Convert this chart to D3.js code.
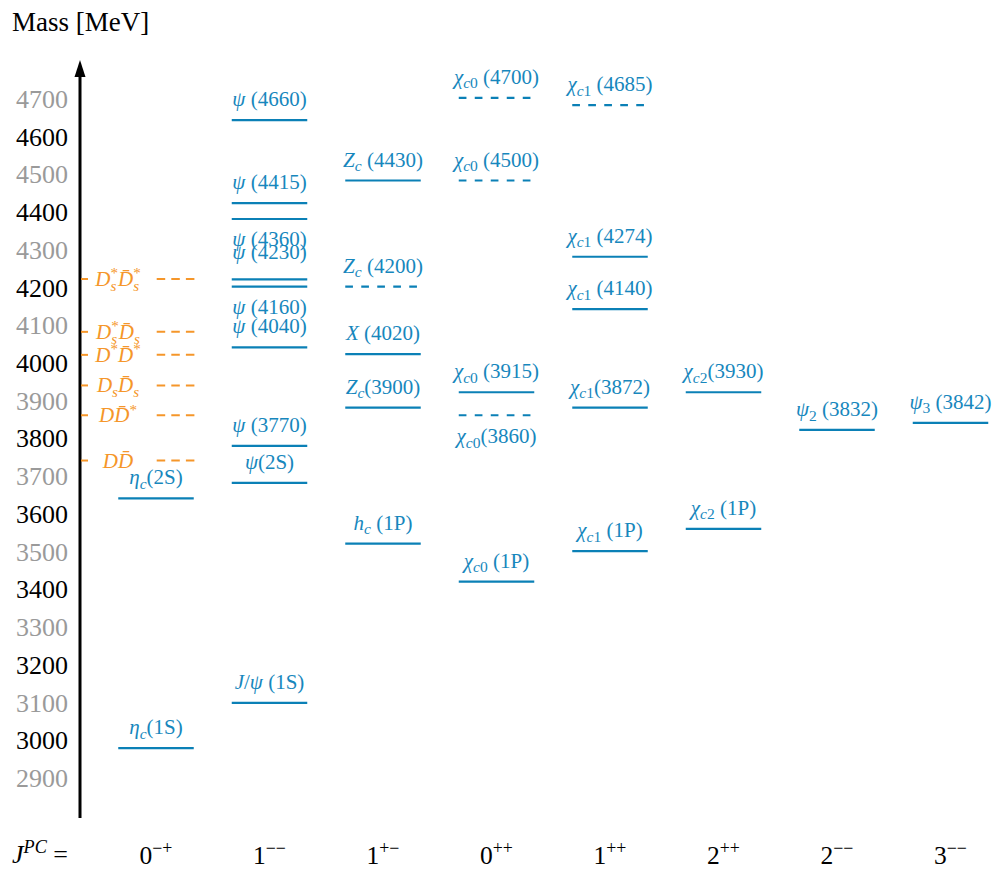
<!DOCTYPE html>
<html>
<head>
<meta charset="utf-8">
<script src="https://cdn.jsdelivr.net/npm/d3@7"></script>
<style>
  html, body { margin: 0; padding: 0; background: #fff; }
  svg text { white-space: pre; }
</style>
</head>
<body>
<svg id="chart" width="997" height="870"></svg>
<script>
// ---- data ---------------------------------------------------------------
// J^PC columns
const jpcCategories = ["0-+", "1--", "1+-", "0++", "1++", "2++", "2--", "3--"];
const jpcLabels = ["0^{−+}", "1^{−−}", "1^{+−}", "0^{++}", "1^{++}", "2^{++}", "2^{−−}", "3^{−−}"];

// mass axis tick labels [MeV]
const massTicks = [2900, 3000, 3100, 3200, 3300, 3400, 3500, 3600, 3700,
                   3800, 3900, 4000, 4100, 4200, 4300, 4400, 4500, 4600, 4700];

// charmonium(-like) states
const stateLabels = [
  "η_c(1S)", "η_c(2S)",
  "J/ψ (1S)", "ψ(2S)", "ψ (3770)", "ψ (4040)", "ψ (4160)", "ψ (4230)", "ψ (4360)", "ψ (4415)", "ψ (4660)",
  "h_c (1P)", "Z_c(3900)", "X (4020)", "Z_c (4200)", "Z_c (4430)",
  "χ_{c0} (1P)", "χ_{c0}(3860)", "χ_{c0} (3915)", "χ_{c0} (4500)", "χ_{c0} (4700)",
  "χ_{c1} (1P)", "χ_{c1}(3872)", "χ_{c1} (4140)", "χ_{c1} (4274)", "χ_{c1} (4685)",
  "χ_{c2} (1P)", "χ_{c2}(3930)",
  "ψ_2 (3832)",
  "ψ_3 (3842)"
];
const stateJPC = [
  "0-+", "0-+",
  "1--", "1--", "1--", "1--", "1--", "1--", "1--", "1--", "1--",
  "1+-", "1+-", "1+-", "1+-", "1+-",
  "0++", "0++", "0++", "0++", "0++",
  "1++", "1++", "1++", "1++", "1++",
  "2++", "2++",
  "2--",
  "3--"
];
const stateMasses = [
  2980, 3642,
  3100, 3683, 3781, 4042, 4203, 4222, 4382, 4424, 4644,
  3522, 3882, 4024, 4203, 4484,
  3421, 3862, 3923, 4484, 4703,
  3502, 3882, 4143, 4282, 4684,
  3561, 3923,
  3823,
  3842
];
// unconfirmed / predicted states
const stateTentative = [
  false, false,
  false, false, false, false, false, false, false, false, false,
  false, false, false, true, false,
  false, true, false, true, true,
  false, false, false, false, true,
  false, false,
  false,
  false
];

// open-charm thresholds
const thresholdLabels = ["D_s^*D̄_s^*", "D_s^*D̄_s", "D^*D̄^*", "D_sD̄_s", "DD̄^*", "DD̄"];
const thresholdMasses = [4223, 4083, 4022, 3941, 3862, 3742];

// ---- layout --------------------------------------------------------------
const FONT = "'Liberation Serif', 'Times New Roman', serif";
const BLUE_LINE = "#0b80b6";
const BLUE_TEXT = "#1787bd";
const ORANGE = "#f5962a";

// label placement relative to its level: vertical offset of the label centre
const labelOffset = {
  "ψ (4360)": 20, "ψ (4160)": 20, "χ_{c0}(3860)": 21, "ψ (4230)": -27
};
const DEFAULT_OFFSET = -21;

const svg = d3.select("#chart");

const y = d3.scaleLinear().domain([2900, 4700]).range([778.3, 99]);
const x = d3.scaleBand().domain(jpcCategories).range([99.25, 1007.25]).padding(0);
const cx = c => x(c) + x.bandwidth() / 2;
const LEVEL_W = 75.5;
const AXIS_X = 80;

// ---- rich text (sub/superscripts, italic math letters) --------------------
function parseTex(s) {
  const toks = [];
  let i = 0;
  while (i < s.length) {
    const ch = s[i];
    if (ch === "_" || ch === "^") {
      let content;
      if (s[i + 1] === "{") {
        const j = s.indexOf("}", i + 2);
        content = s.slice(i + 2, j);
        i = j + 1;
      } else {
        content = s[i + 1];
        i += 2;
      }
      toks.push({ type: ch === "_" ? "sub" : "sup", text: content });
    } else {
      let text = ch;
      i++;
      while (i < s.length && /[\u0300-\u036f]/.test(s[i])) { text += s[i]; i++; }
      toks.push({ type: "base", text });
    }
  }
  return toks;
}

function appendRuns(textEl, str, size, shift, dx, state, math) {
  // split into runs of italic letters / upright others
  const runs = [];
  for (const ch of str) {
    const it = math && /[\p{L}]/u.test(ch);
    const isMark = /[\u0300-\u036f]/.test(ch);
    if (runs.length && (runs[runs.length - 1].it === it || isMark)) runs[runs.length - 1].t += ch;
    else runs.push({ t: ch, it });
  }
  const nodes = [];
  runs.forEach((r, k) => {
    const ts = textEl.append("tspan")
      .attr("font-size", size)
      .attr("font-style", r.it ? "italic" : "normal")
      .text(r.t);
    const dy = shift - state.shift;
    if (dy !== 0) ts.attr("dy", dy);
    state.shift = shift;
    if (k === 0 && dx) ts.attr("dx", dx);
    nodes.push(ts.node());
  });
  return nodes;
}

const widthOf = nodes => nodes.reduce((a, n) => a + n.getComputedTextLength(), 0);

function drawRich(textEl, str, size, mathUntilParen, opts = {}) {
  const state = { shift: 0 };
  let math = str, roman = "";
  if (mathUntilParen) {
    const k = str.indexOf("(");
    if (k >= 0) { math = str.slice(0, k); roman = str.slice(k); }
  }
  const toks = parseTex(math);
  const subShift = size * (opts.sub || 0.24), supShift = -size * (opts.sup || 0.4);
  const scr = size * (opts.scale || 0.7);
  let pendingDx = 0;
  for (let t = 0; t < toks.length; t++) {
    const tok = toks[t];
    if (tok.type === "base") {
      appendRuns(textEl, tok.text, size, 0, pendingDx, state, true);
      pendingDx = 0;
    } else {
      const first = appendRuns(textEl, tok.text, scr, tok.type === "sub" ? subShift : supShift, pendingDx, state, true);
      pendingDx = 0;
      const next = toks[t + 1];
      if (next && next.type !== "base" && next.type !== tok.type) {
        const w1 = widthOf(first);
        const second = appendRuns(textEl, next.text, scr, next.type === "sub" ? subShift : supShift, -w1, state, true);
        pendingDx = Math.max(0, w1 - widthOf(second));
        t++;
      }
    }
  }
  if (roman) appendRuns(textEl, roman, size, 0, pendingDx, state, false);
  else if (state.shift !== 0) textEl.append("tspan").attr("dy", -state.shift).text("");
}

// ---- title ---------------------------------------------------------------
svg.append("text")
  .attr("x", 12).attr("y", 31)
  .attr("font-family", FONT).attr("font-size", 27).attr("fill", "#000")
  .text("Mass [MeV]");

// ---- mass axis -----------------------------------------------------------
const axis = d3.axisLeft(y).tickValues(massTicks).tickSize(0).tickPadding(12).tickFormat(d3.format("d"));
const gAxis = svg.append("g").attr("transform", `translate(${AXIS_X},0)`).call(axis);
gAxis.select(".domain").remove();
gAxis.selectAll(".tick text")
  .attr("font-family", FONT).attr("font-size", 26)
  .attr("fill", d => (d / 100) % 2 === 1 ? "#9a9a9a" : "#000");

svg.append("line")
  .attr("x1", AXIS_X).attr("x2", AXIS_X)
  .attr("y1", y(2795)).attr("y2", 72)
  .attr("stroke", "#000").attr("stroke-width", 3);
svg.append("path")
  .attr("d", `M${AXIS_X},60 L${AXIS_X - 5.5},77 L${AXIS_X + 5.5},77 Z`)
  .attr("fill", "#000");

// ---- open-charm thresholds ----------------------------------------------
const gThr = svg.append("g");
thresholdLabels.forEach((lab, i) => {
  const yy = y(thresholdMasses[i]);
  gThr.append("line")
    .attr("x1", AXIS_X + 1).attr("x2", AXIS_X + 8).attr("y1", yy).attr("y2", yy)
    .attr("stroke", ORANGE).attr("stroke-width", 2);
  gThr.append("line")
    .attr("x1", 156.7).attr("x2", 194.4).attr("y1", yy).attr("y2", yy)
    .attr("stroke", ORANGE).attr("stroke-width", 2).attr("stroke-dasharray", "8.5,6.1");
  const t = gThr.append("text")
    .attr("x", 118).attr("y", yy + 7)
    .attr("text-anchor", "middle")
    .attr("font-family", FONT).attr("fill", ORANGE);
  drawRich(t, lab, 21, false, { scale: 0.72, sub: 0.24, sup: 0.36 });
});

// ---- levels --------------------------------------------------------------
const gLev = svg.append("g");
stateLabels.forEach((lab, i) => {
  const xc = cx(stateJPC[i]);
  const yy = y(stateMasses[i]);
  gLev.append("line")
    .attr("x1", xc - LEVEL_W / 2).attr("x2", xc + LEVEL_W / 2)
    .attr("y1", yy).attr("y2", yy)
    .attr("stroke", BLUE_LINE).attr("stroke-width", 2.2)
    .attr("stroke-dasharray", stateTentative[i] ? "7.7,8.3" : null);
  const off = labelOffset[lab] !== undefined ? labelOffset[lab] : DEFAULT_OFFSET;
  const t = gLev.append("text")
    .attr("x", xc).attr("y", yy + off + 7)
    .attr("text-anchor", "middle")
    .attr("font-family", FONT).attr("fill", BLUE_TEXT);
  drawRich(t, lab, 21, true, { scale: 0.74, sub: 0.22 });
});

// ---- J^PC row ------------------------------------------------------------
const gBottom = svg.append("g");
const jt = gBottom.append("text")
  .attr("x", 12).attr("y", 863)
  .attr("font-family", FONT).attr("fill", "#000");
drawRich(jt, "J^{PC} =", 26, false);

jpcCategories.forEach((c, i) => {
  const t = gBottom.append("text")
    .attr("x", cx(c)).attr("y", 864)
    .attr("text-anchor", "middle")
    .attr("font-family", FONT).attr("fill", "#000");
  drawRich(t, jpcLabels[i], 25.5, false);
});
</script>
</body>
</html>
